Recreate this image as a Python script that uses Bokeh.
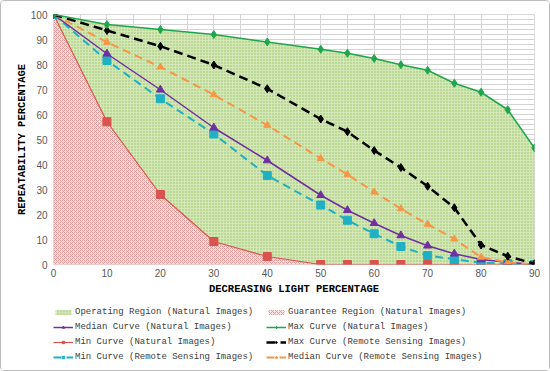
from bokeh.plotting import figure
from bokeh.layouts import column
from bokeh.models import Legend, LegendItem, SingleIntervalTicker, FixedTicker, Range1d
from bokeh.embed import file_html
from bokeh.resources import INLINE

x = [0, 10, 20, 30, 40, 50, 55, 60, 65, 70, 75, 80, 85, 90]
max_nat = [100, 96, 94, 92, 89, 86.1, 84.5, 82.4, 79.9, 77.7, 72.5, 68.9, 61.9, 46.6]
max_rs = [100, 93.6, 87.3, 79.8, 70.3, 58.2, 53.1, 45.6, 38.8, 31.3, 22.7, 7.8, 3.3, 0.3]
med_rs = [100, 88.9, 79.0, 67.9, 55.7, 42.4, 36.0, 29.0, 22.3, 16.1, 10.2, 2.9, 0.9, 0.0]
med_nat = [100, 84.3, 69.9, 54.7, 41.6, 27.7, 21.7, 16.5, 11.6, 7.5, 4.3, 2.0, 0.9, 0.0]
min_rs = [100, 81.6, 66.3, 52.2, 35.6, 23.8, 17.7, 12.3, 7.2, 3.6, 2.1, 0.7, 0.3, 0.0]
min_nat = [100, 57.1, 28.0, 9.2, 3.2, 0, 0, 0, 0, 0, 0, 0, 0, 0]
zeros = [0] * len(x)
x_ticks = [0, 10, 20, 30, 40, 50, 60, 70, 80, 90]
y_ticks = [0, 10, 20, 30, 40, 50, 60, 70, 80, 90, 100]

W = 548
p = figure(width=W, height=300, output_backend="svg", toolbar_location=None,
           x_range=Range1d(0, 90), y_range=Range1d(0, 100),
           min_border_left=52, min_border_right=15, min_border_top=13,
           min_border_bottom=37)

p.outline_line_color = "#d9d9d9"
p.xgrid.ticker = SingleIntervalTicker(interval=5)
p.ygrid.ticker = SingleIntervalTicker(interval=2)
p.xgrid.grid_line_color = "#d4d4d4"
p.ygrid.grid_line_color = "#d4d4d4"

for ax in (p.xaxis[0], p.yaxis[0]):
    ax.axis_line_color = None
    ax.major_tick_line_color = None
    ax.minor_tick_line_color = None
    ax.major_tick_out = 0
    ax.minor_tick_out = 0
    ax.major_label_text_font = "Liberation Sans"
    ax.major_label_text_font_size = "10px"
    ax.major_label_text_color = "#595959"
    ax.axis_label_text_font = "Liberation Mono"
    ax.axis_label_text_font_style = "bold"
    ax.axis_label_text_font_size = "10.5px"
    ax.axis_label_text_color = "#000000"
p.xaxis.ticker = FixedTicker(ticks=x_ticks)
p.yaxis.ticker = FixedTicker(ticks=y_ticks)
p.xaxis.axis_label = "DECREASING LIGHT PERCENTAGE"
p.yaxis.axis_label = "REPEATABILITY PERCENTAGE"
p.xaxis.major_label_standoff = 4
p.yaxis.major_label_standoff = 6
p.xaxis.axis_label_standoff = 3
p.yaxis.axis_label_standoff = 0

op_style = dict(fill_color="#d3e8b6", hatch_pattern="dot", hatch_color="#98c165",
                hatch_scale=3, hatch_weight=1)
gu_style = dict(fill_color="#f9e0e0", hatch_pattern="diagonal_cross", hatch_color="#e59a9a",
                hatch_scale=4, hatch_weight=1)
p.varea(x=x, y1=min_nat, y2=max_nat, **op_style)
p.varea(x=x, y1=zeros, y2=min_nat, **gu_style)

styles = {
    "min_nat": ("#d9534f", "square", 8, 1.2, "solid"),
    "min_rs": ("#1fb0c4", "square", 8, 2, "8 5"),
    "med_nat": ("#7030a0", "triangle", 8, 1.5, "solid"),
    "med_rs": ("#f79646", "triangle", 7, 2, "8 5"),
    "max_rs": ("#000000", "diamond", 8, 2.5, "9 5"),
    "max_nat": ("#1fa64c", "diamond", 8, 1.5, "solid"),
}
series = {"min_nat": min_nat, "min_rs": min_rs, "med_nat": med_nat,
          "med_rs": med_rs, "max_rs": max_rs, "max_nat": max_nat}

for key, ys in series.items():
    color, marker, size, width, dash = styles[key]
    p.line(x, ys, line_color=color, line_width=width, line_dash=dash)
    p.scatter(x, ys, marker=marker, size=size, fill_color=color, line_color=color)

# legend-only figure: same series drawn with ranges that keep them out of view,
# so only their legend swatches appear
lg = figure(width=W, height=69, output_backend="svg", toolbar_location=None,
            x_range=Range1d(-200, -100), y_range=Range1d(-200, -100),
            min_border_left=39, min_border_top=6, min_border_right=0, min_border_bottom=0)
lg.axis.visible = False
lg.grid.visible = False
lg.outline_line_color = None

def leg_curve(key):
    color, marker, size, width, dash = styles[key]
    ys = series[key]
    l = lg.line(x, ys, line_color=color, line_width=width, line_dash=dash)
    s = lg.scatter(x, ys, marker=marker, size=size - 1, fill_color=color, line_color=color)
    return [l, s]

op_l = lg.varea(x=x, y1=min_nat, y2=max_nat, **op_style)
gu_l = lg.varea(x=x, y1=zeros, y2=min_nat, **gu_style)

items = [
    LegendItem(label="Operating Region (Natural Images)", renderers=[op_l]),
    LegendItem(label="Guarantee Region (Natural Images)", renderers=[gu_l]),
    LegendItem(label="Median Curve (Natural Images)", renderers=leg_curve("med_nat")),
    LegendItem(label="Max Curve (Natural Images)", renderers=leg_curve("max_nat")),
    LegendItem(label="Min Curve (Natural Images)", renderers=leg_curve("min_nat")),
    LegendItem(label="Max Curve (Remote Sensing Images)", renderers=leg_curve("max_rs")),
    LegendItem(label="Min Curve (Remote Sensing Images)", renderers=leg_curve("min_rs")),
    LegendItem(label="Median Curve (Remote Sensing Images)", renderers=leg_curve("med_rs")),
]
legend = Legend(items=items, orientation="horizontal", ncols=2,
                label_text_font="Liberation Mono", label_text_font_size="9px",
                label_text_color="#404040", glyph_width=20, glyph_height=6,
                label_height=10, label_width=186, label_standoff=2, spacing=5, padding=0,
                margin=0, border_line_color=None, background_fill_alpha=0,
                location="top_left")
lg.add_layout(legend, "center")

layout = column(p, lg, spacing=0,
                styles={"border": "1px solid #bdbdbd", "border-radius": "4px"})

open("out.html", "w").write(file_html(layout, INLINE))
